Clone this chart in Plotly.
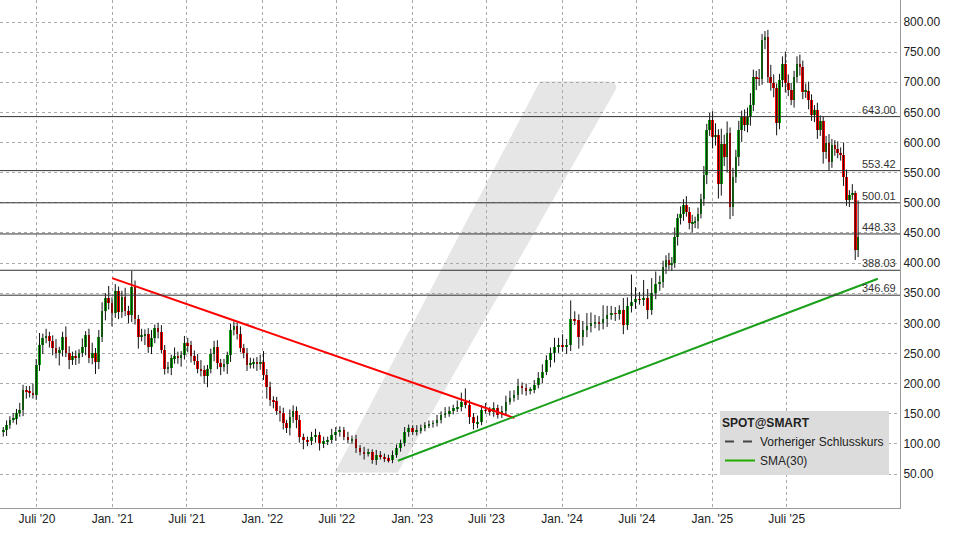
import plotly.graph_objects as go
import pandas as pd

# Weekly closes, three segments
close_1 = [123,131,140,141,151,156,190,187,185,181,231,264,275,279,270,259,250,255,277,250,239,245,243,250,261,281,242,250,236,277,320,342,333,317,353,319,344,320,314,361,308,278,279,282,261,275,292,285,256,225,226,242,245,243,248,267,264,245,237,225,222,212,225,249,260,234,228,232,248,289,295,283,259,250,231,233,236,233,236,214,195,173,171,154,152,134,126,145,154,140]
up_1 = [5,8,6,10,7,12,8,6,9,15,10,20,8,12,7,10,15,6,9,18,12,8,10,7,14,6,10,18,9,12,15,8,20,10,12,8,10,15,9,26,10,6,12,8,10,14,6,9,12,8,10,6,15,8,6,12,9,7,10,12,14,8,6,9,11,12,7,9,5,10,8,6,12,7,9,10,6,8,12,18,10,8,6,7,9,8,6,12,10,8]
dn_1 = [8,10,6,5,9,6,10,12,8,6,8,10,15,8,10,12,8,20,10,6,15,8,12,10,6,14,8,10,20,12,8,15,10,22,8,12,10,8,14,12,10,20,8,15,10,12,8,10,6,10,8,12,9,10,15,8,12,10,6,8,10,12,18,8,12,10,14,8,16,12,9,10,7,8,10,6,8,12,10,8,20,10,12,6,15,10,8,12,10,14]

close_2 = [112,106,104,112,115,101,104,106,115,120,123,112,106,108,93,87,84,86,73,82,79,76,73,82,93,102,120,126,120,123,126,131,133,134,140,148,151,154,159,162,170,165,145,134,137,156,155,153,159,148,155,170,176,181,196,192,188,189,198,209,220,239,250,261,264,261,264,308,305,278,289,295,300,302,300,308,314,317,316,322,297,328,336,340,339,342,322,350,366,369]
up_2 = [8,5,6,8,10,5,8,6,10,8,6,5,8,6,7,5,8,6,5,8,6,5,6,7,6,5,8,6,5,8,6,5,6,5,8,6,10,8,6,10,15,22,8,6,10,8,12,6,10,6,8,10,12,8,12,6,8,5,8,10,12,8,10,15,12,18,10,30,12,10,15,22,18,12,10,22,15,12,10,8,20,15,45,20,12,30,15,25,20,10]
dn_2 = [10,15,8,6,10,12,8,6,5,10,8,6,5,6,8,6,10,5,6,8,5,6,4,5,5,6,6,8,5,6,6,5,5,6,5,6,5,6,5,6,8,6,12,10,8,6,5,6,8,6,5,6,5,6,8,10,8,6,5,6,8,6,12,15,10,8,12,10,8,20,15,12,10,8,12,10,14,8,12,10,15,8,10,12,8,10,15,8,10,12]

close_3 = [394,405,397,400,444,474,482,496,485,466,468,469,482,507,546,621,637,610,612,532,598,576,615,493,543,576,621,643,629,643,662,709,707,706,770,775,709,698,690,632,704,731,698,687,670,709,731,726,684,686,670,646,654,621,635,585,599,568,596,590,582,580,543,505,513,516,422,444]
up_3 = [10,8,12,10,15,8,12,10,15,8,12,8,10,8,15,10,12,15,20,10,25,15,20,10,15,12,15,10,12,15,20,12,10,15,10,10,12,20,15,8,10,12,20,15,12,10,12,15,10,12,15,10,8,12,10,8,12,15,10,8,12,10,20,12,8,15,4,60]
dn_3 = [10,12,8,10,8,15,10,12,8,10,15,10,12,8,12,15,10,20,15,25,20,15,25,20,15,10,15,20,10,12,15,10,20,12,10,15,10,12,15,20,10,12,15,10,8,12,10,15,12,10,15,10,12,15,10,20,12,15,10,12,8,10,15,10,12,8,17,12]

seg_dates = [("2020-04-10", "2022-03-25", close_1, up_1, dn_1),
             ("2022-04-01", "2024-08-26", close_2, up_2, dn_2),
             ("2024-09-03", "2025-12-22", close_3, up_3, dn_3)]

levels = [643.00, 553.42, 500.01, 448.33, 388.03, 346.69]
level_labels = ["643.00", "553.42", "500.01", "448.33", "388.03", "346.69"]
red_trend_x = ["2020-12-31", "2023-09-07"]; red_trend_y = [375, 143]
green_trend_x = ["2022-11-27", "2026-02-08"]; green_trend_y = [72, 374]
tick_dates = ["2020-07-01","2021-01-01","2021-07-01","2022-01-01","2022-07-01","2023-01-01",
              "2023-07-01","2024-01-01","2024-07-01","2025-01-01","2025-07-01"]
tick_text = ["Juli '20","Jan. '21","Juli '21","Jan. '22","Juli '22","Jan. '23",
             "Juli '23","Jan. '24","Juli '24","Jan. '25","Juli '25"]

dates, o, c, h, l = [], [], [], [], []
prev = None
for start, end, cl, up, dn in seg_dates:
    ds = pd.date_range(start, end, periods=len(cl))
    for d, cc, u, w in zip(ds, cl, up, dn):
        oo = prev if prev is not None else cc - 3
        dates.append(d); o.append(oo); c.append(cc)
        h.append(max(oo, cc) + u); l.append(min(oo, cc) - w)
        prev = cc

wx, wy = [], []
for d, hi, lo in zip(dates, h, l):
    wx += [d, d, None]; wy += [lo, hi, None]

fig = go.Figure()
# watermark
fig.add_shape(type="path", xref="paper", yref="paper", layer="below",
              path="M 0.372 0.07 L 0.442 0.07 L 0.683 0.82 Q 0.69 0.84 0.67 0.84 L 0.6 0.84 Z",
              fillcolor="#e6e6e6", line=dict(width=0))
for lv, lt in zip(levels, level_labels):
    fig.add_hline(y=lv, line=dict(color="#333333", width=1))
    fig.add_annotation(x=0.998, xref="paper", y=lv, text=lt, showarrow=False,
                       xanchor="right", yanchor="bottom", font=dict(size=11, color="#333"), yshift=-1)

fig.add_trace(go.Scatter(x=wx, y=wy, mode="lines", line=dict(color="#111", width=1),
                         showlegend=False, hoverinfo="skip"))
upx = [d for d, a, b in zip(dates, o, c) if b >= a]
upb = [a for d, a, b in zip(dates, o, c) if b >= a]
uph = [max(b - a, 1.5) for d, a, b in zip(dates, o, c) if b >= a]
dnx = [d for d, a, b in zip(dates, o, c) if b < a]
dnb = [b for d, a, b in zip(dates, o, c) if b < a]
dnh = [a - b for d, a, b in zip(dates, o, c) if b < a]
bw = 6.5 * 86400000
fig.add_trace(go.Bar(x=upx, y=uph, base=upb, width=bw, marker=dict(color="#14a014", line=dict(width=0)), showlegend=False))
fig.add_trace(go.Bar(x=dnx, y=dnh, base=dnb, width=bw, marker=dict(color="#ff0000", line=dict(width=0)), showlegend=False))
fig.add_trace(go.Scatter(x=red_trend_x, y=red_trend_y, mode="lines", line=dict(color="#ff0000", width=2), showlegend=False))
fig.add_trace(go.Scatter(x=green_trend_x, y=green_trend_y, mode="lines", line=dict(color="#1aa01a", width=2), showlegend=False))
fig.add_trace(go.Scatter(x=[None], y=[None], mode="lines", name="Vorheriger Schlusskurs",
                         line=dict(color="#444", width=2, dash="dash")))
fig.add_trace(go.Scatter(x=[None], y=[None], mode="lines", name="SMA(30)",
                         line=dict(color="#22aa00", width=2)))

fig.update_layout(
    width=953, height=536, margin=dict(l=0, r=53, t=0, b=28, autoexpand=False),
    plot_bgcolor="white", paper_bgcolor="white", barmode="overlay", bargap=0,
    font=dict(family="Liberation Sans, Arial, sans-serif", size=12, color="#222"),
    legend=dict(x=0.8, y=0.19, xanchor="left", yanchor="top", bgcolor="#dcdcdc",
                title=dict(text="<b>SPOT@SMART</b>", font=dict(size=12)),
                font=dict(size=12), itemwidth=30, tracegroupgap=0),
    xaxis=dict(type="date", range=["2020-04-02", "2026-04-03"], tickvals=tick_dates, ticktext=tick_text,
               showgrid=True, gridcolor="#aaaaaa", griddash="dot", showline=True, linecolor="#999",
               mirror=True, ticks="", tickfont=dict(size=12, color="#222")),
    yaxis=dict(side="right", range=[-6.4, 836.5], tickvals=list(range(50, 801, 50)),
               tickformat=".2f", showgrid=True, gridcolor="#aaaaaa", griddash="dot",
               showline=True, linecolor="#999", mirror=True, zeroline=False,
               tickfont=dict(size=12, color="#222")),
)
fig.write_html("out.html", config={"displayModeBar": False},
               post_script="document.body.style.margin='0';")
